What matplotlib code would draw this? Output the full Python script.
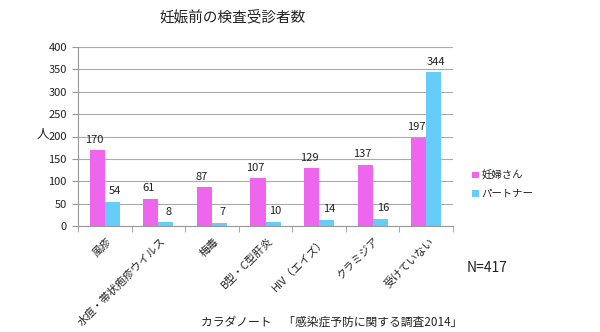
import matplotlib
matplotlib.use("Agg")
import matplotlib.pyplot as plt
import matplotlib.transforms as mtransforms
import numpy as np

plt.rcParams['font.family'] = ['Noto Sans CJK JP', 'DejaVu Sans']

categories = ["風疹", "水痘・帯状疱疹ウイルス", "梅毒", "B型・C型肝炎", "HIV（エイズ）", "クラミジア", "受けていない"]
pregnant = [170, 61, 87, 107, 129, 137, 197]
partner = [54, 8, 7, 10, 14, 16, 344]
series_names = ["妊婦さん", "パートナー"]
yticks = [0, 50, 100, 150, 200, 250, 300, 350, 400]

pink = "#EE66EE"
blue = "#66CCF8"
text_col = "#222222"

fig = plt.figure(figsize=(6, 3.32), dpi=100)
ax = fig.add_axes([78/600, 1-226/332, (453-78)/600, (226-47)/332])

x = np.arange(len(categories))
w = 0.28
b1 = ax.bar(x - w/2, pregnant, w, color=pink, label=series_names[0])
b2 = ax.bar(x + w/2, partner, w, color=blue, label=series_names[1])
for rect, v in zip(b1, pregnant):
    ax.text(rect.get_x() + rect.get_width()/2 - 0.05, v + 12, str(v), ha='center', va='bottom', fontsize=8, color=text_col)
for rect, v in zip(b2, partner):
    ax.text(rect.get_x() + rect.get_width()/2 + 0.05, v + 12, str(v), ha='center', va='bottom', fontsize=8, color=text_col)

ax.set_xlim(-0.5, len(categories) - 0.5)
ax.set_ylim(0, 400)
ax.set_yticks(yticks)
ax.yaxis.grid(True, color='#AAAAAA', linewidth=0.8)
ax.set_axisbelow(True)
for s in ['top', 'right']:
    ax.spines[s].set_visible(False)
ax.spines['left'].set_color('#999999')
ax.spines['bottom'].set_color('#999999')
ax.tick_params(axis='y', labelsize=8, length=4, color='#999999', pad=4, labelcolor=text_col)
ax.set_xticks(np.arange(len(categories) + 1) - 0.5, minor=True)
ax.set_xticks(x)
ax.tick_params(axis='x', which='major', length=0, labelsize=7.8, pad=7, labelcolor=text_col)
ax.tick_params(axis='x', which='minor', length=4, color='#999999')
ax.set_xticklabels(categories, rotation=45, ha='right', rotation_mode='anchor')
offset = mtransforms.ScaledTranslation(2/100, 0, fig.dpi_scale_trans)
for lab in ax.get_xticklabels():
    lab.set_transform(lab.get_transform() + offset)

fig.text(43/600, 1-135/332, "人", fontsize=9, ha='center', va='center', color=text_col)
fig.text(233/600, 1-17/332, "妊娠前の検査受診者数", fontsize=10.5, ha='center', va='center', color=text_col)

leg = ax.legend(loc='upper left', bbox_to_anchor=(463/600, 1-161/332), bbox_transform=fig.transFigure,
                frameon=False, fontsize=7.5, handlelength=0.6, handleheight=0.6, handletextpad=0.3,
                labelspacing=0.8)
for t in leg.get_texts():
    t.set_color(text_col)
fig.text(467/600, 1-268/332, "N=417", fontsize=10, ha='left', va='center', color=text_col)
fig.text(201/600, 1-322/332, "カラダノート　「感染症予防に関する調査2014」", fontsize=8.5, ha='left', va='center', color=text_col)

fig.savefig("out.png", dpi=100)
